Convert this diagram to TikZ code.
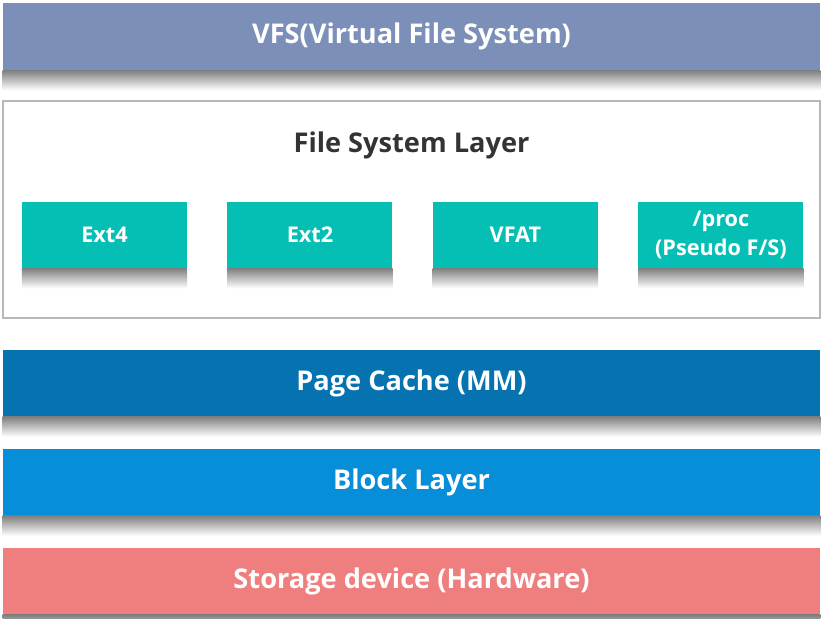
\documentclass[tikz,border=0pt]{standalone}
\usepackage{fontspec}
\setmainfont{Open Sans}
\usepackage{tikz}
\usetikzlibrary{positioning}

\definecolor{vfsblue}{HTML}{7B8FB9}
\definecolor{fsframe}{HTML}{B8B8B8}
\definecolor{fsteal}{HTML}{05BFB4}
\definecolor{cacheblue}{HTML}{0673B0}
\definecolor{blockblue}{HTML}{068ED8}
\definecolor{hwred}{HTML}{EF7F7F}
\definecolor{titlegray}{HTML}{333333}

% soft shadow under a box
\newcommand{\dropshade}[1]{\shade[top color=black!50, bottom color=white] (#1.south west) rectangle ([yshift=-0.6cm]#1.south east);}

\begin{document}
\begin{tikzpicture}[x=0.03cm, y=-0.03cm,
    layer/.style={rectangle, minimum width=24.51cm, minimum height=2.01cm, inner sep=0pt, text=white, font=\fontsize{23.2}{27}\selectfont\bfseries},
    fsbox/.style={rectangle, fill=fsteal, minimum width=4.95cm, minimum height=1.98cm, inner sep=0pt, text=white, align=center, font=\fontsize{18.5}{25}\selectfont\bfseries},
    frame/.style={rectangle, draw=fsframe, line width=1pt, minimum width=24.51cm, minimum height=6.51cm, inner sep=0pt}]

    \clip (0,0) rectangle (822,618);
    \fill[white] (0,0) rectangle (822,618);

    \node[layer, fill=vfsblue] (vfs) at (411.5,36.5) {VFS(Virtual File System)};
    \node[frame] (fslayer) at (411.5,209.5) {};
    \node[text=titlegray, font=\fontsize{23.2}{27}\selectfont\bfseries] (fstitle) at (411.5,145) {File System Layer};

    \node[fsbox] (ext4) at (104.5,235) {Ext4};
    \node[fsbox, right=1.2cm of ext4] (ext2) {Ext2};
    \node[fsbox, right=1.2cm of ext2] (vfat) {VFAT};
    \node[fsbox, right=1.2cm of vfat] (proc) {/proc\\(Pseudo F/S)};

    \node[layer, fill=cacheblue] (cache) at (411.5,383) {Page Cache (MM)};
    \node[layer, fill=blockblue] (block) at (411.5,482) {Block Layer};
    \node[layer, fill=hwred] (storage) at (411.5,581) {Storage device (Hardware)};

    \foreach \b in {vfs, ext4, ext2, vfat, proc, cache, block, storage}
        {\dropshade{\b}}
\end{tikzpicture}
\end{document}
